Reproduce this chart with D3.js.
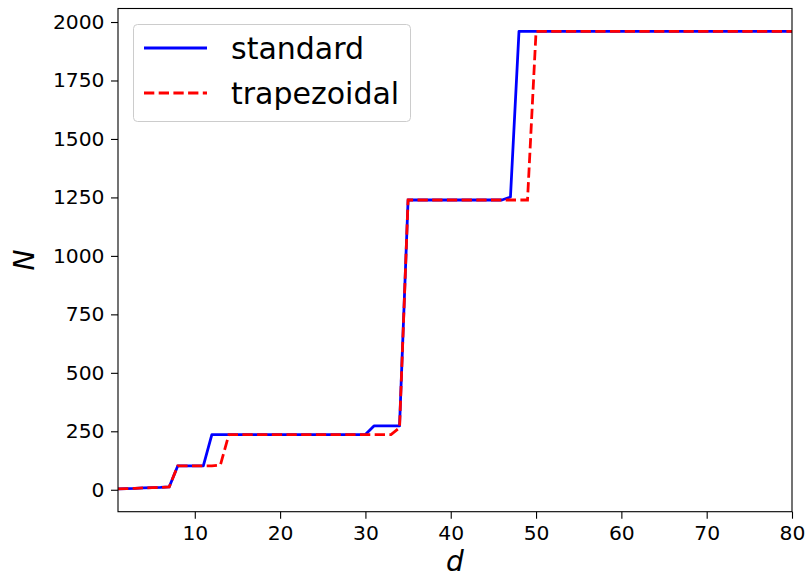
<!DOCTYPE html>
<html>
<head>
<meta charset="utf-8">
<script src="https://cdn.jsdelivr.net/npm/d3@7"></script>
<style>
  html, body { margin: 0; padding: 0; background: #fff; }
  svg { display: block; font-family: "DejaVu Sans", sans-serif; }
</style>
</head>
<body>
<svg id="chart" width="809" height="577"></svg>
<script>
// Dimension d (x values)
const dValues = [
  1, 2, 3, 4, 5, 6, 7, 8, 9, 10,
  11, 12, 13, 14, 15, 16, 17, 18, 19, 20,
  21, 22, 23, 24, 25, 26, 27, 28, 29, 30,
  31, 32, 33, 34, 35, 36, 37, 38, 39, 40,
  41, 42, 43, 44, 45, 46, 47, 48, 49, 50,
  51, 52, 53, 54, 55, 56, 57, 58, 59, 60,
  61, 62, 63, 64, 65, 66, 67, 68, 69, 70,
  71, 72, 73, 74, 75, 76, 77, 78, 79, 80
];

// N for the standard rule
const standardN = [
  4, 5, 6, 8, 9, 10, 12, 102, 102, 102,
  102, 236, 236, 236, 236, 236, 236, 236, 236, 236,
  236, 236, 236, 236, 236, 236, 236, 236, 236, 236,
  273, 273, 273, 273, 1239, 1239, 1239, 1239, 1239, 1239,
  1239, 1239, 1239, 1239, 1239, 1239, 1252, 1960, 1960, 1960,
  1960, 1960, 1960, 1960, 1960, 1960, 1960, 1960, 1960, 1960,
  1960, 1960, 1960, 1960, 1960, 1960, 1960, 1960, 1960, 1960,
  1960, 1960, 1960, 1960, 1960, 1960, 1960, 1960, 1960, 1960
];

// N for the trapezoidal rule
const trapezoidalN = [
  4, 5, 6, 8, 9, 10, 12, 102, 102, 102,
  102, 102, 106, 236, 236, 236, 236, 236, 236, 236,
  236, 236, 236, 236, 236, 236, 236, 236, 236, 236,
  236, 236, 236, 265, 1239, 1239, 1239, 1239, 1239, 1239,
  1239, 1239, 1239, 1239, 1239, 1239, 1239, 1239, 1239, 1960,
  1960, 1960, 1960, 1960, 1960, 1960, 1960, 1960, 1960, 1960,
  1960, 1960, 1960, 1960, 1960, 1960, 1960, 1960, 1960, 1960,
  1960, 1960, 1960, 1960, 1960, 1960, 1960, 1960, 1960, 1960
];

const xTicks = [10, 20, 30, 40, 50, 60, 70, 80];
const yTicks = [0, 250, 500, 750, 1000, 1250, 1500, 1750, 2000];

const seriesNames = ["standard", "trapezoidal"];
const seriesColors = ["#0000ff", "#ff0000"];

const svg = d3.select("#chart");
const plot = { left: 118, right: 792, top: 8.5, bottom: 511.7 };

const x = d3.scaleLinear().domain([1, 80]).range([plot.left, plot.right]);
const yMin = 4, yMax = 1960, pad = (yMax - yMin) * 0.05;
const y = d3.scaleLinear().domain([yMin - pad, yMax + pad]).range([plot.bottom, plot.top]);

const tickFont = 20.3;
const lineW = 2.78;
const dash = "10.3,4.4";

// x axis
const xAxis = svg.append("g")
  .attr("transform", `translate(0,${plot.bottom})`)
  .call(d3.axisBottom(x).tickValues(xTicks).tickFormat(d3.format("d"))
    .tickSizeOuter(0).tickSize(7).tickPadding(7));
// y axis
const yAxis = svg.append("g")
  .attr("transform", `translate(${plot.left},0)`)
  .call(d3.axisLeft(y).tickValues(yTicks).tickFormat(d3.format("d"))
    .tickSizeOuter(0).tickSize(7).tickPadding(6.5));

[xAxis, yAxis].forEach(g => {
  g.select(".domain").remove();
  g.selectAll(".tick line").attr("stroke", "#000").attr("stroke-width", 1.1);
  g.selectAll(".tick text")
    .attr("fill", "#000")
    .style("font-size", tickFont + "px")
    .style("font-family", "'DejaVu Sans', sans-serif");
});

// series lines
const lineGen = d3.line()
  .x((d, i) => x(dValues[i]))
  .y(d => y(d));

svg.append("path")
  .datum(standardN)
  .attr("d", lineGen)
  .attr("fill", "none")
  .attr("stroke", seriesColors[0])
  .attr("stroke-width", lineW)
  .attr("stroke-linejoin", "round");

svg.append("path")
  .datum(trapezoidalN)
  .attr("d", lineGen)
  .attr("fill", "none")
  .attr("stroke", seriesColors[1])
  .attr("stroke-width", lineW)
  .attr("stroke-dasharray", dash);

// plot frame
svg.append("rect")
  .attr("x", plot.left).attr("y", plot.top)
  .attr("width", plot.right - plot.left)
  .attr("height", plot.bottom - plot.top)
  .attr("fill", "none")
  .attr("stroke", "#000")
  .attr("stroke-width", 1.1);

// axis labels
svg.append("text")
  .attr("x", (plot.left + plot.right) / 2)
  .attr("y", 571)
  .attr("text-anchor", "middle")
  .style("font-size", "28px")
  .style("font-style", "italic")
  .text("d");

svg.append("text")
  .attr("transform", `translate(34,${(plot.top + plot.bottom) / 2}) rotate(-90)`)
  .attr("text-anchor", "middle")
  .style("font-size", "28px")
  .style("font-style", "italic")
  .text("N");

// legend
const legend = svg.append("g");
legend.append("rect")
  .attr("x", 133.5).attr("y", 24.5)
  .attr("width", 277).attr("height", 97)
  .attr("rx", 4).attr("ry", 4)
  .attr("fill", "#fff").attr("fill-opacity", 0.8)
  .attr("stroke", "#cccccc").attr("stroke-width", 1);

seriesNames.forEach((name, i) => {
  const ly = 48 + i * 45;
  legend.append("line")
    .attr("x1", 144).attr("x2", 207)
    .attr("y1", ly).attr("y2", ly)
    .attr("stroke", seriesColors[i])
    .attr("stroke-width", lineW)
    .attr("stroke-dasharray", i === 1 ? dash : null);
  legend.append("text")
    .attr("x", 231).attr("y", ly)
    .attr("dy", "0.35em")
    .style("font-size", "30px")
    .attr("fill", "#000")
    .text(name);
});
</script>
</body>
</html>
